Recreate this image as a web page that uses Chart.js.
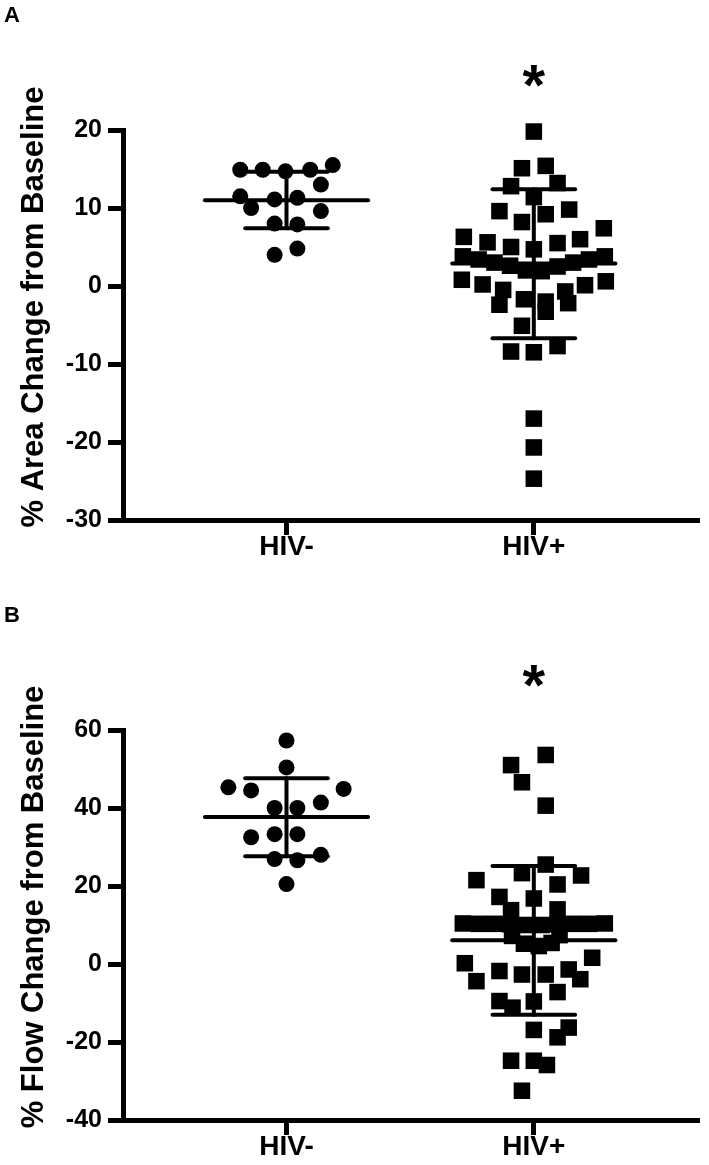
<!DOCTYPE html>
<html><head><meta charset="utf-8">
<script src="https://cdn.jsdelivr.net/npm/chart.js@4.4.1/dist/chart.umd.min.js"></script>
<style>
html,body{margin:0;padding:0;background:#fff;}
#wrap{position:relative;width:709px;height:1165px;overflow:hidden;background:#fff;}
canvas{position:absolute;left:0;}
.lbl{position:absolute;left:4px;font:bold 22px "Liberation Sans",Arial,sans-serif;line-height:22px;color:#000;}
</style></head><body>
<div id="wrap">
<canvas id="cA" width="709" height="600" style="top:0"></canvas>
<canvas id="cB" width="709" height="565" style="top:600px"></canvas>
<div class="lbl" style="top:4px">A</div>
<div class="lbl" style="top:604px">B</div>
</div>
<script>
const categories = ['HIV-', 'HIV+'];

// Panel A: % Area Change from Baseline
const areaTitle = '% Area Change from Baseline';
const areaTicks = [-30, -20, -10, 0, 10, 20];
const areaNegX = [0.813,0.904,0.996,1.096,1.187,1.139,0.813,0.952,1.044,0.857,1.139,0.952,1.044,0.952,1.044];
const areaNegY = [14.9,14.9,14.7,14.9,15.5,13.0,11.5,11.1,11.3,10.0,9.6,8.0,7.9,4.0,4.8];
const areaPosX = [2.000,1.952,2.048,1.908,2.096,2.000,1.861,1.952,2.048,2.143,2.283,1.717,1.813,1.908,2.000,2.096,2.187,
  1.713,1.777,1.841,1.904,1.968,2.032,2.096,2.159,2.223,2.287,
  1.709,1.793,1.876,2.291,2.207,2.127,1.861,1.960,2.048,2.139,2.048,1.952,1.908,2.000,2.096,2.000,2.000,2.000];
const areaPosY = [19.8,15.1,15.4,12.8,13.2,11.4,9.6,8.2,9.2,9.8,7.4,6.3,5.6,5.0,4.7,5.5,6.0,
  3.8,3.4,3.0,2.6,2.0,1.9,2.5,3.0,3.4,3.8,
  0.8,0.2,-0.5,0.6,0.1,-0.7,-2.4,-1.7,-2.0,-2.2,-3.3,-5.1,-8.4,-8.5,-7.7,-17.0,-20.7,-24.7];
const areaMean = [11.0, 2.9];
const areaSdHigh = [14.65, 12.4];
const areaSdLow = [7.4, -6.7];
const areaSig = [{group: 'HIV+', value: 27.5}];

// Panel B: % Flow Change from Baseline
const flowTitle = '% Flow Change from Baseline';
const flowTicks = [-40, -20, 0, 20, 40, 60];
const flowNegX = [1.000,1.000,0.765,0.857,1.231,1.139,0.952,1.044,0.857,0.952,1.044,1.139,0.952,1.044,1.000];
const flowNegY = [57.3,50.4,45.3,44.5,44.9,41.4,40.0,40.0,32.5,33.3,33.3,28.0,26.9,26.6,20.5];
const flowPosX = [2.048,1.908,1.952,2.048,2.048,1.952,1.768,2.191,2.096,1.861,2.000,1.908,2.096,
  1.713,1.777,1.841,1.904,1.968,2.032,2.096,2.159,2.223,2.287,
  1.912,1.960,2.020,2.072,2.104,
  1.721,1.768,1.861,1.952,2.048,2.141,2.236,2.188,2.096,1.861,1.914,2.000,2.000,2.096,2.141,1.908,2.000,2.053,1.952];
const flowPosY = [53.6,51.0,46.6,40.6,25.5,23.3,21.5,22.7,20.4,17.2,16.8,13.8,14.0,
  10.4,10.3,10.3,10.2,10.0,10.0,10.2,10.3,10.3,10.4,
  7.2,5.2,4.6,5.4,7.4,
  0.2,-4.4,-1.8,-2.7,-2.7,-1.4,1.6,-3.9,-7.2,-9.5,-11.2,-9.6,-16.9,-18.8,-16.3,-24.8,-24.8,-25.9,-32.5];
const flowMean = [37.7, 6.1];
const flowSdHigh = [47.6, 25.1];
const flowSdLow = [27.6, -13.0];
const flowSig = [{group: 'HIV+', value: 75}];

const FONT = '"Liberation Sans", Arial, Helvetica, sans-serif';
const MEAN_HALF = 0.33, CAP_HALF = 0.167;

const sigPlugin = {
  id: 'sig',
  afterDraw(chart, args, opts) {
    const {ctx, chartArea, scales: {x, y}} = chart;
    if (opts.title) {
      ctx.save();
      ctx.font = 'bold 31px ' + FONT;
      ctx.fillStyle = '#000';
      ctx.textAlign = 'center';
      ctx.textBaseline = 'middle';
      ctx.translate(34, (chartArea.top + chartArea.bottom) / 2 - 18);
      ctx.rotate(-Math.PI / 2);
      ctx.fillText(opts.title, 0, 0);
      ctx.restore();
    }
    (opts.marks || []).forEach(m => {
      const px = x.getPixelForValue(categories.indexOf(m.group) + 1);
      const py = y.getPixelForValue(m.value);
      const size = 58;
      ctx.save();
      ctx.font = 'bold ' + size + 'px ' + FONT;
      ctx.fillStyle = '#000';
      ctx.textAlign = 'center';
      ctx.textBaseline = 'alphabetic';
      ctx.fillText('*', px, py + 0.58 * size);
      ctx.restore();
    });
  }
};

function lineSeg(p1, p2) {
  return {type: 'line', data: [p1, p2], borderColor: '#000', borderWidth: 4,
    borderCapStyle: 'round', pointRadius: 0, showLine: true, fill: false, clip: false, order: 0};
}

function buildDatasets(negX, negY, posX, posY, mean, hi, lo) {
  const ds = [];
  ds.push({label: categories[0], data: negX.map((x, i) => ({x, y: negY[i]})),
    pointStyle: 'circle', pointRadius: 8, backgroundColor: '#000', borderWidth: 0, clip: false, order: 1});
  ds.push({label: categories[1], data: posX.map((x, i) => ({x, y: posY[i]})),
    pointStyle: 'rect', pointRadius: 11.7, backgroundColor: '#000', borderWidth: 0, clip: false, order: 1});
  categories.forEach((c, i) => {
    const cx = i + 1;
    ds.push(lineSeg({x: cx - MEAN_HALF, y: mean[i]}, {x: cx + MEAN_HALF, y: mean[i]}));
    ds.push(lineSeg({x: cx - CAP_HALF, y: hi[i]}, {x: cx + CAP_HALF, y: hi[i]}));
    ds.push(lineSeg({x: cx - CAP_HALF, y: lo[i]}, {x: cx + CAP_HALF, y: lo[i]}));
    ds.push(lineSeg({x: cx, y: lo[i]}, {x: cx, y: hi[i]}));
  });
  return ds;
}

function makeChart(id, height, title, ticks, datasets, marks) {
  const axisGrid = {display: true, drawOnChartArea: false, drawTicks: true, tickLength: 15, lineWidth: 5, color: '#000'};
  const axisBorder = {display: true, width: 5, color: '#000'};
  return new Chart(document.getElementById(id), {
    type: 'scatter',
    data: {datasets},
    options: {
      responsive: false, animation: false, devicePixelRatio: 1,
      layout: {padding: {top: 130, left: 0, right: 3, bottom: height - 520 - 45}},
      plugins: {legend: {display: false}, tooltip: {enabled: false}, sig: {marks, title}},
      scales: {
        x: {
          type: 'linear', min: 0.339, max: 2.661,
          afterBuildTicks: s => { s.ticks = categories.map((c, i) => ({value: i + 1})); },
          afterFit: s => { s.height = 45; },
          ticks: {callback: v => categories[Math.round(v) - 1], color: '#000', padding: -5,
            maxRotation: 0, autoSkip: false, font: {family: FONT, size: 28, weight: 'bold'}},
          grid: axisGrid, border: axisBorder
        },
        y: {
          type: 'linear', min: ticks[0], max: ticks[ticks.length - 1],
          afterBuildTicks: s => { s.ticks = ticks.map(v => ({value: v})); },
          afterFit: s => { s.width = 123; },
          ticks: {color: '#000', padding: 6, font: {family: FONT, size: 25, weight: 'bold'}},
          title: {display: false},
          grid: axisGrid, border: axisBorder
        }
      }
    },
    plugins: [sigPlugin]
  });
}

makeChart('cA', 600, areaTitle, areaTicks,
  buildDatasets(areaNegX, areaNegY, areaPosX, areaPosY, areaMean, areaSdHigh, areaSdLow), areaSig);
makeChart('cB', 565, flowTitle, flowTicks,
  buildDatasets(flowNegX, flowNegY, flowPosX, flowPosY, flowMean, flowSdHigh, flowSdLow), flowSig);
</script>
</body></html>
